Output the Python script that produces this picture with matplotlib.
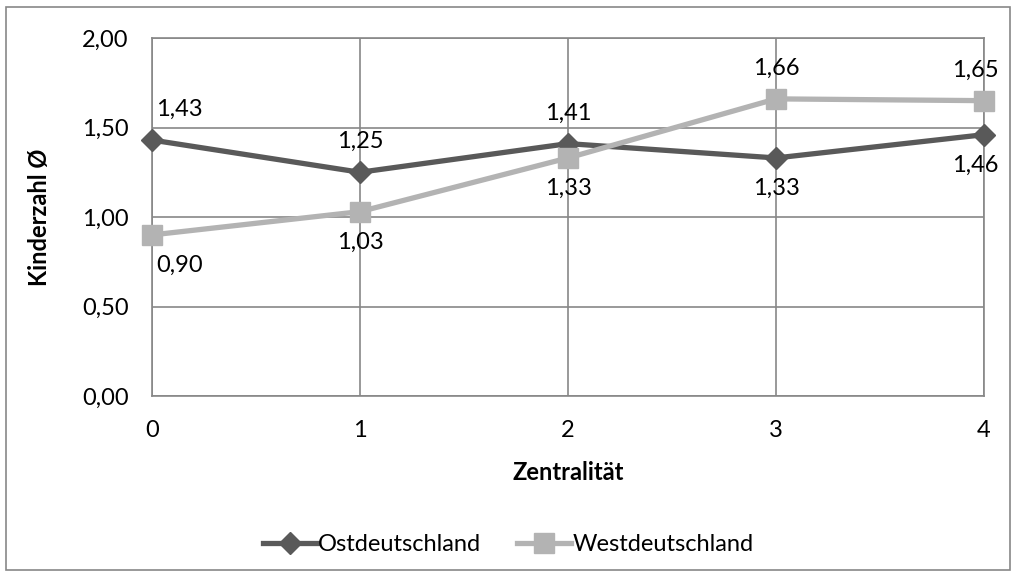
import numpy as np
import matplotlib.pyplot as plt

plt.rcParams['font.family'] = ['Lato', 'DejaVu Sans']

# Daten
zentralitaet = [0, 1, 2, 3, 4]
ost = [1.43, 1.25, 1.41, 1.33, 1.46]
west = [0.90, 1.03, 1.33, 1.66, 1.65]
y_ticks = [0.0, 0.5, 1.0, 1.5, 2.0]

# Lage der Beschriftungen: +1 = oben, -1 = unten
ost_pos = [1, 1, 1, -1, -1]
west_pos = [-1, -1, -1, 1, 1]

fs = 17

fig = plt.figure(figsize=(10.16, 5.76), dpi=100)
ax = fig.add_axes([0.1496, 0.3125, 0.8189, 0.6215])

c_ost = '#595959'
c_west = '#b3b3b3'
grid_c = '#878787'

ax.plot(zentralitaet, ost, color=c_ost, linewidth=3.8, marker='D', markersize=11,
        label='Ostdeutschland', zorder=3, clip_on=False)
ax.plot(zentralitaet, west, color=c_west, linewidth=3.8, marker='s', markersize=14,
        label='Westdeutschland', zorder=3, clip_on=False)

def fmt(v):
    return f"{v:.2f}".replace('.', ',')

for serie, pos in ((ost, ost_pos), (west, west_pos)):
    for x, y, p in zip(zentralitaet, serie, pos):
        dx = 0
        if x == 0:
            dx = 20
        elif x == 4:
            dx = -6
        ax.annotate(fmt(y), (x, y), xytext=(dx, 22 * p), textcoords='offset points',
                    ha='center', va='center', fontsize=fs, color='black', zorder=4)

ax.set_xlim(0, 4)
ax.set_ylim(0, 2)
ax.set_xticks(zentralitaet)
ax.set_yticks(y_ticks)
ax.set_yticklabels([fmt(v) for v in y_ticks])
ax.tick_params(axis='y', length=0, labelsize=fs, pad=17)
ax.tick_params(axis='x', length=0, labelsize=fs, pad=17)
ax.grid(True, color=grid_c, linewidth=1.2)
ax.set_axisbelow(True)
for s in ax.spines.values():
    s.set_color(grid_c)
    s.set_linewidth(1.2)

ax.set_xlabel('Zentralität', fontsize=fs, fontweight='bold', va='center')
ax.set_ylabel('Kinderzahl Ø', fontsize=fs, fontweight='bold', va='center')
ax.xaxis.set_label_coords(0.5, -0.215)
ax.yaxis.set_label_coords(-0.135, 0.5)

fig.legend(loc='center', bbox_to_anchor=(0.5, 0.054), ncol=2, frameon=False,
           fontsize=fs, handlelength=2.3, columnspacing=1.5, handletextpad=0.05)

# Rahmen um die ganze Grafik
fig.patches.append(plt.Rectangle((0.006, 0.01), 0.988, 0.977, transform=fig.transFigure,
                                 fill=False, edgecolor='#878787', linewidth=1.2))

fig.savefig('out.png', dpi=100)
